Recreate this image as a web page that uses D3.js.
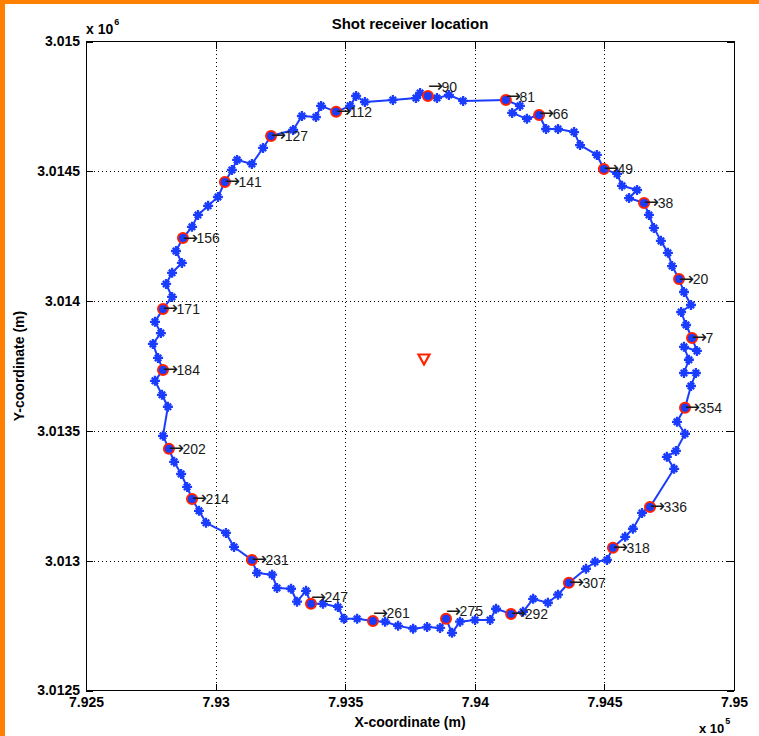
<!DOCTYPE html>
<html>
<head>
<meta charset="utf-8">
<script src="https://cdn.jsdelivr.net/npm/d3@7"></script>
<style>
  html, body { margin: 0; padding: 0; background: #ffffff; }
  svg { display: block; }
  text { font-family: "Liberation Sans", Arial, Helvetica, sans-serif; }
</style>
</head>
<body>
<script>
// Receiver positions around the acquisition loop (easting / northing, metres)
const recX = [
  794838, 794815, 794796, 794834, 794807, 794788, 794761, 794745, 794718, 794691,
  794672, 794653, 794595, 794626, 794568, 794549, 794498, 794471, 794406, 794383,
  794321, 794275, 794248, 794201, 794144, 794174, 794120, 793955, 793900, 793854,
  793819, 793789, 793773, 793684, 793576, 793542, 793519, 793465, 793407, 793387,
  793333, 793299, 793214, 793183, 793140, 793083, 793063, 793036, 793009, 792971,
  792932, 792909, 792874, 792847, 792870, 792832, 792809, 792832, 792797, 792766,
  792789, 792758, 792778, 792797, 792766, 792793, 792816, 792797, 792820, 792840,
  792867, 792890, 792909, 792936, 792963, 793040, 793071, 793140, 793160, 793218,
  793237, 793291, 793314, 793349, 793368, 793414, 793472, 793495, 793546, 793607,
  793654, 793704, 793762, 793816, 793866, 793889, 793912, 793943, 794001, 794059,
  794082, 794140, 794186, 794225, 794282, 794321, 794363, 794429, 794464, 794510,
  794533, 794580, 794610, 794645, 794676, 794769, 794741, 794776, 794811, 794780,
  794811, 794834, 794853, 794807, 794826, 794807, 794857
];
const recY = [
  3013858, 3013908, 3013958, 3013985, 3014035, 3014085, 3014135, 3014186, 3014232, 3014282,
  3014332, 3014378, 3014397, 3014428, 3014444, 3014490, 3014509, 3014563, 3014601, 3014651,
  3014663, 3014663, 3014717, 3014702, 3014725, 3014752, 3014775, 3014771, 3014794, 3014782,
  3014790, 3014802, 3014782, 3014775, 3014767, 3014790, 3014752, 3014729, 3014752, 3014709,
  3014713, 3014659, 3014636, 3014590, 3014528, 3014544, 3014505, 3014459, 3014401, 3014367,
  3014332, 3014286, 3014243, 3014193, 3014147, 3014109, 3014066, 3014016, 3013970, 3013920,
  3013877, 3013835, 3013781, 3013735, 3013693, 3013639, 3013593, 3013481, 3013431, 3013381,
  3013334, 3013284, 3013238, 3013192, 3013146, 3013107, 3013053, 3013003, 3012953, 3012946,
  3012895, 3012892, 3012842, 3012884, 3012834, 3012834, 3012822, 3012776, 3012776, 3012768,
  3012765, 3012749, 3012738, 3012745, 3012741, 3012776, 3012722, 3012765, 3012772, 3012772,
  3012815, 3012795, 3012803, 3012853, 3012838, 3012869, 3012915, 3012969, 3012996, 3013003,
  3013050, 3013092, 3013123, 3013184, 3013207, 3013354, 3013400, 3013423, 3013489, 3013535,
  3013589, 3013673, 3013723, 3013723, 3013774, 3013824, 3013808
];

// Annotated shots: shot number and the receiver position it refers to
const shotNums = [7, 20, 38, 49, 66, 81, 90, 112, 127, 141, 156, 171,
                  184, 202, 214, 231, 247, 261, 275, 292, 307, 318, 336, 354];
const shotIdx  = [0, 5, 11, 16, 22, 26, 30, 37, 42, 47, 52, 58,
                  63, 68, 72, 77, 84, 89, 95, 101, 106, 110, 114, 120];
// Northing offset (metres) of each annotation's text anchor from its receiver
const shotTextRise = [0, 0, 0, 0, 4, 12, 36, 0, 0, 0, 0, 0,
                      0, 0, 0, 0, 26, 30, 30, 0, 0, 0, 0, 0];

// Source location
const sourceX = [793804];
const sourceY = [3013777];

// Axis ticks and their labels (values shown in units of 1e5 / 1e6)
const xTicks = [792500, 793000, 793500, 794000, 794500, 795000];
const xTickLabels = ["7.925", "7.93", "7.935", "7.94", "7.945", "7.95"];
const yTicks = [3012500, 3013000, 3013500, 3014000, 3014500, 3015000];
const yTickLabels = ["3.0125", "3.013", "3.0135", "3.014", "3.0145", "3.015"];

const W = 759, H = 736;
const plot = { left: 86, right: 734, top: 41.5, bottom: 690.5 };
const lineBlue = "#1a3cff";
const ringRed = "#ff2200";

const svg = d3.select("body").append("svg")
  .attr("width", W).attr("height", H);

// window frame accent
svg.append("rect").attr("x", 0).attr("y", 0).attr("width", W).attr("height", H).attr("fill", "#ffffff");
svg.append("rect").attr("x", 0).attr("y", 0).attr("width", W).attr("height", 4).attr("fill", "#ff8000");
svg.append("rect").attr("x", 0).attr("y", 0).attr("width", 5).attr("height", H).attr("fill", "#ff8000");

const x = d3.scaleLinear().domain([792500, 795000]).range([plot.left, plot.right]);
const y = d3.scaleLinear().domain([3012500, 3015000]).range([plot.bottom, plot.top]);

// dotted grid
const grid = svg.append("g").attr("stroke", "#000").attr("stroke-width", 1)
  .attr("stroke-dasharray", "1,3").attr("shape-rendering", "crispEdges");
xTicks.slice(1, -1).forEach(v => {
  grid.append("line").attr("x1", Math.round(x(v)) + 0.5).attr("x2", Math.round(x(v)) + 0.5)
    .attr("y1", plot.top).attr("y2", plot.bottom);
});
yTicks.slice(1, -1).forEach(v => {
  grid.append("line").attr("y1", Math.round(y(v)) + 0.5).attr("y2", Math.round(y(v)) + 0.5)
    .attr("x1", plot.left).attr("x2", plot.right);
});

// axes with inward ticks on all four sides
const fmtX = d => xTickLabels[xTicks.indexOf(d)];
const fmtY = d => yTickLabels[yTicks.indexOf(d)];
const axB = svg.append("g").attr("transform", `translate(0,${plot.bottom})`)
  .call(d3.axisBottom(x).tickValues(xTicks).tickFormat(fmtX).tickSizeInner(-7).tickSizeOuter(0).tickPadding(7));
const axT = svg.append("g").attr("transform", `translate(0,${plot.top})`)
  .call(d3.axisTop(x).tickValues(xTicks).tickFormat("").tickSizeInner(-7).tickSizeOuter(0));
const axL = svg.append("g").attr("transform", `translate(${plot.left},0)`)
  .call(d3.axisLeft(y).tickValues(yTicks).tickFormat(fmtY).tickSizeInner(-7).tickSizeOuter(0).tickPadding(6));
const axR = svg.append("g").attr("transform", `translate(${plot.right},0)`)
  .call(d3.axisRight(y).tickValues(yTicks).tickFormat("").tickSizeInner(-7).tickSizeOuter(0));
[axB, axT, axL, axR].forEach(a => {
  a.select(".domain").remove();
  a.selectAll("line").attr("stroke", "#000").attr("shape-rendering", "crispEdges");
  a.selectAll("text").attr("font-size", 14).attr("font-weight", "bold").attr("fill", "#000")
    .attr("font-family", "'Liberation Sans', Arial, sans-serif");
});

// plot frame
svg.append("rect").attr("x", plot.left + 0.5).attr("y", plot.top)
  .attr("width", plot.right - plot.left).attr("height", plot.bottom - plot.top)
  .attr("fill", "none").attr("stroke", "#000").attr("stroke-width", 1)
  .attr("shape-rendering", "crispEdges");

// receiver loop
const pts = recX.map((v, i) => [v, recY[i]]);
const loop = pts.concat([pts[0]]);
svg.append("path")
  .attr("d", d3.line().x(d => x(d[0])).y(d => y(d[1]))(loop))
  .attr("fill", "none").attr("stroke", lineBlue).attr("stroke-width", 2)
  .attr("stroke-linejoin", "round");

// star markers at each receiver
const starPath = "M-5,0H5M0,-5V5M-3.2,-3.2L3.2,3.2M-3.2,3.2L3.2,-3.2";
svg.append("g").selectAll("path").data(pts).join("path")
  .attr("transform", d => `translate(${x(d[0])},${y(d[1])})`)
  .attr("d", starPath).attr("fill", "none")
  .attr("stroke", lineBlue).attr("stroke-width", 2.3);

// annotated shots: ringed receivers with arrow labels
const shots = shotNums.map((n, k) => ({
  n, px: recX[shotIdx[k]], py: recY[shotIdx[k]], rise: shotTextRise[k]
}));
svg.append("g").selectAll("circle").data(shots).join("circle")
  .attr("cx", d => x(d.px)).attr("cy", d => y(d.py)).attr("r", 5)
  .attr("fill", lineBlue).attr("stroke", ringRed).attr("stroke-width", 2);
const lbl = svg.append("g").selectAll("text").data(shots).join("text")
  .attr("x", d => x(d.px))
  .attr("y", d => y(d.py + d.rise) + 5)
  .attr("font-size", 14).attr("fill", "#1a1a1a");
lbl.append("tspan").attr("font-family", "'DejaVu Sans', sans-serif")
  .attr("font-size", 18).attr("dy", 0.5).text("\u2192");
lbl.append("tspan").attr("dx", -1.5).attr("dy", -0.5).text(d => d.n);

// source
svg.append("path")
  .attr("transform", `translate(${x(sourceX[0])},${y(sourceY[0])})`)
  .attr("d", "M-5.5,-4.5H5.5L0,5.5Z")
  .attr("fill", "none").attr("stroke", ringRed).attr("stroke-width", 2.2)
  .attr("stroke-linejoin", "miter");

// titles and axis labels
svg.append("text").attr("x", (plot.left + plot.right) / 2).attr("y", 29)
  .attr("text-anchor", "middle").attr("font-size", 15).attr("font-weight", "bold")
  .text("Shot receiver location");
svg.append("text").attr("x", (plot.left + plot.right) / 2).attr("y", 727)
  .attr("text-anchor", "middle").attr("font-size", 14).attr("font-weight", "bold")
  .text("X-coordinate (m)");
svg.append("text")
  .attr("transform", `translate(24,${(plot.top + plot.bottom) / 2}) rotate(-90)`)
  .attr("text-anchor", "middle").attr("font-size", 14).attr("font-weight", "bold")
  .text("Y-coordinate (m)");

// exponent notes
const yExp = svg.append("text").attr("x", 86).attr("y", 34)
  .attr("font-size", 14).attr("font-weight", "bold");
yExp.append("tspan").text("x 10");
yExp.append("tspan").attr("dx", 1).attr("dy", -9).attr("font-size", 9).text("6");
const xExp = svg.append("text").attr("x", 699).attr("y", 733)
  .attr("font-size", 13).attr("font-weight", "bold");
xExp.append("tspan").text("x 10");
xExp.append("tspan").attr("dx", 1).attr("dy", -9).attr("font-size", 9).text("5");
</script>
</body>
</html>
